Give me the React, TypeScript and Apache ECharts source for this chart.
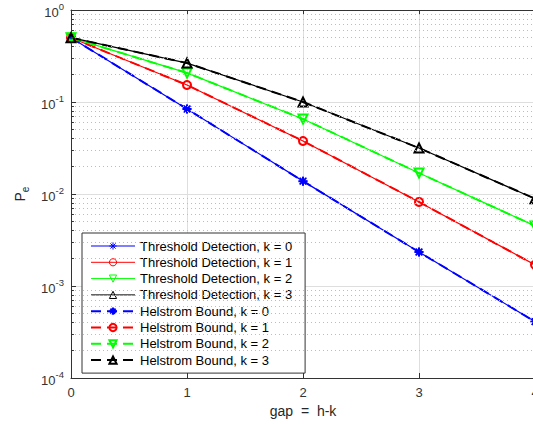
import React, { useEffect, useRef } from "react";
import * as echarts from "echarts";

const gaps = [0, 1, 2, 3, 4];
const kValues = [0, 1, 2, 3];
const thresholdK0 = [0.5, 0.084, 0.0138, 0.00234, 0.00041];
const thresholdK1 = [0.5, 0.153, 0.0377, 0.0082, 0.0017];
const thresholdK2 = [0.5, 0.207, 0.0654, 0.0169, 0.0045];
const thresholdK3 = [0.5, 0.265, 0.1, 0.0316, 0.0089];
const helstromK0 = [0.5, 0.084, 0.0138, 0.00234, 0.00041];
const helstromK1 = [0.5, 0.153, 0.0377, 0.0082, 0.0017];
const helstromK2 = [0.5, 0.207, 0.0654, 0.0169, 0.0045];
const helstromK3 = [0.5, 0.265, 0.1, 0.0316, 0.0089];
const yDecades = [1e-4, 1e-3, 1e-2, 1e-1, 1];
const minorMultipliers = [2, 3, 4, 5, 6, 7, 8, 9];

const colors = ["#0000ff", "#ff0000", "#00ff00", "#000000"];
const ASTERISK = "path://M5 0L5 10M0 5L10 5M1.4 1.4L8.6 8.6M1.4 8.6L8.6 1.4";
const symbols = [ASTERISK, "circle", "triangle", "triangle"];
const rotations = [0, 0, 180, 0];
const sizes = [9, 8, 9, 9];

const FONT = "'Liberation Sans', Arial, Helvetica, sans-serif";

export default function App() {
  const ref = useRef<HTMLDivElement>(null);
  useEffect(() => {
    if (!ref.current) return;
    const chart = echarts.init(ref.current, undefined, { renderer: "svg" });
    const threshold = [thresholdK0, thresholdK1, thresholdK2, thresholdK3];
    const helstrom = [helstromK0, helstromK1, helstromK2, helstromK3];
    const minorLines: number[] = [];
    yDecades.slice(0, -1).forEach((d) => minorMultipliers.forEach((m) => minorLines.push(d * m)));
    const xMin = gaps[0];
    const minorTickLen = 0.025;

    const lineStyleFor = (i: number, helst: boolean) =>
      helst
        ? { color: colors[i], width: 2, type: [10, 6] }
        : { color: colors[i], width: 1.2, type: "solid" };
    const itemStyleFor = (i: number, helst: boolean) => ({
      color: "rgba(0,0,0,0)",
      borderColor: colors[i],
      borderWidth: helst ? 2 : 1,
    });

    const mkSeries = (vals: number[], i: number, helst: boolean) => ({
      name: (helst ? "Helstrom Bound, k = " : "Threshold Detection, k = ") + kValues[i],
      type: "line",
      data: gaps.map((g, j) => [g, vals[j]]),
      symbol: symbols[i],
      symbolSize: sizes[i],
      symbolRotate: rotations[i],
      showAllSymbol: true,
      z: helst ? 4 : 3,
      lineStyle: lineStyleFor(i, helst),
      itemStyle: itemStyleFor(i, helst),
      emphasis: { disabled: true },
    });

    const dataSeries = [
      ...threshold.map((v, i) => mkSeries(v, i, false)),
      ...helstrom.map((v, i) => mkSeries(v, i, true)),
    ];

    const series: any[] = [
      {
        name: "minor-grid",
        type: "line",
        data: [],
        z: 1,
        silent: true,
        markLine: {
          silent: true,
          precision: 10,
          symbol: ["none", "none"],
          label: { show: false },
          lineStyle: { color: "#bdbdbd", type: [1, 3], width: 1 },
          emphasis: { disabled: true },
          data: minorLines.map((v) => ({ yAxis: v })),
        },
      },
      {
        name: "minor-ticks",
        type: "line",
        data: [],
        z: 2,
        silent: true,
        markLine: {
          silent: true,
          precision: 10,
          symbol: ["none", "none"],
          label: { show: false },
          lineStyle: { color: "#333", type: "solid", width: 1 },
          emphasis: { disabled: true },
          data: minorLines.map((v) => [{ coord: [xMin, v] }, { coord: [xMin + minorTickLen, v] }]),
        },
      },
      ...dataSeries,
    ];

    chart.setOption({
      animation: false,
      textStyle: { fontFamily: FONT },
      grid: { left: 71, top: 10, right: -2, bottom: 46, outerBoundsMode: "none", containLabel: false },
      legend: {
        orient: "vertical",
        left: 82,
        top: 233,
        data: dataSeries.map((s, idx) => {
          const helst = idx >= 4;
          const i = idx % 4;
          return {
            name: s.name,
            lineStyle: { ...lineStyleFor(i, helst), width: helst ? 2 : 1 },
            itemStyle: itemStyleFor(i, helst),
          };
        }),
        itemWidth: 44,
        itemHeight: 9,
        itemGap: 2.3,
        padding: [6, 13, 6, 8],
        backgroundColor: "#ffffff",
        borderColor: "#333333",
        borderWidth: 1,
        borderRadius: 0,
        textStyle: { fontSize: 13, lineHeight: 14, color: "#000", fontFamily: FONT },
        selectedMode: false,
      },
      xAxis: [
        {
          type: "value",
          min: 0,
          max: 4,
          interval: 1,
          name: "{t|gap }{q|=}{t| h-k}",
          nameLocation: "middle",
          nameGap: 24,
          nameTextStyle: {
            rich: {
              t: { fontSize: 14, color: "#262626", fontFamily: FONT },
              q: { fontSize: 14, color: "#262626", fontFamily: FONT, padding: [0, 4, 0, 4] },
            },
          },
          axisLine: { show: true, lineStyle: { color: "#333", width: 1 } },
          axisTick: { show: true, inside: true, length: 5, lineStyle: { color: "#333" } },
          axisLabel: { fontSize: 13, color: "#333", margin: 8, fontFamily: FONT },
          splitLine: { show: true, lineStyle: { color: "#dedede", width: 1 } },
        },
        {
          type: "value",
          position: "top",
          min: 0,
          max: 4,
          interval: 1,
          axisLine: { show: true, lineStyle: { color: "#333", width: 1 } },
          axisTick: { show: true, inside: true, length: 5, lineStyle: { color: "#333" } },
          axisLabel: { show: false },
          splitLine: { show: false },
        },
      ],
      yAxis: {
        type: "log",
        logBase: 10,
        min: yDecades[0],
        max: yDecades[yDecades.length - 1],
        name: "{a|P}{e|e}",
        nameLocation: "middle",
        nameRotate: 90,
        nameGap: 41,
        nameTextStyle: {
          rich: {
            a: { fontSize: 14, color: "#262626", fontFamily: FONT, verticalAlign: "top" },
            e: { fontSize: 10, color: "#262626", fontFamily: FONT, verticalAlign: "top", padding: [7, 0, 0, 0] },
          },
        },
        axisLine: { show: true, lineStyle: { color: "#333", width: 1 } },
        axisTick: { show: true, inside: true, length: 5, lineStyle: { color: "#333" } },
        axisLabel: {
          margin: 7,
          formatter: (v: number) => `{b|10}{s|${Math.round(Math.log10(v))}}`,
          rich: {
            b: { fontSize: 13, color: "#333", fontFamily: FONT, verticalAlign: "bottom" },
            s: { fontSize: 9.5, color: "#333", fontFamily: FONT, verticalAlign: "bottom", padding: [0, 0, 7, 0] },
          },
        },
        splitLine: { show: true, lineStyle: { color: "#dedede", width: 1 } },
      },
      series,
    });
    return () => chart.dispose();
  }, []);
  return (
    <div
      ref={ref}
      style={{ position: "absolute", left: 0, top: 0, width: 533, height: 424, background: "#fff" }}
    />
  );
}
